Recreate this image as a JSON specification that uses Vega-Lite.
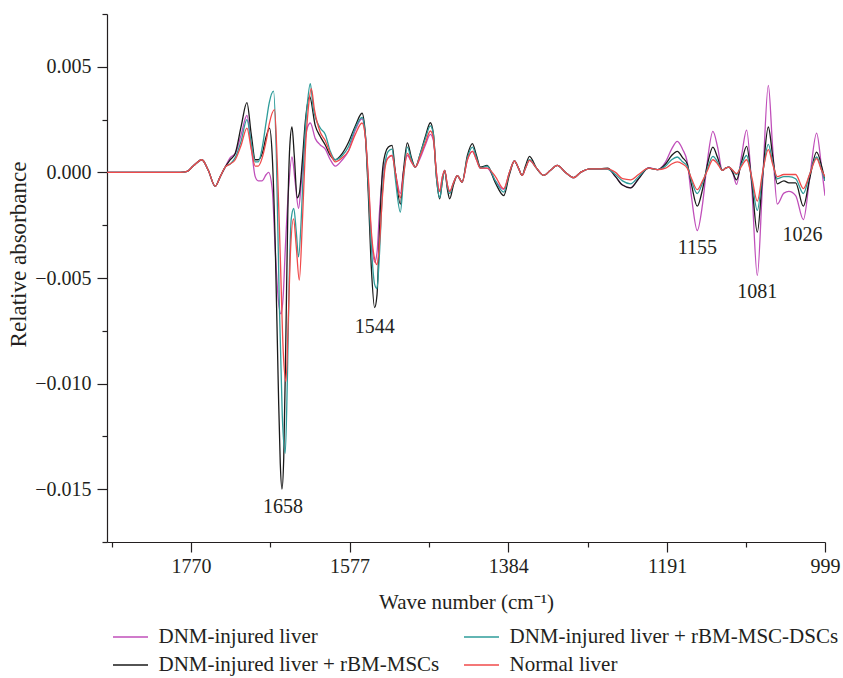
{
"$schema": "https://vega.github.io/schema/vega-lite/v6.json",
"width": 718, "height": 528,
"autosize": {"type": "none"},
"padding": {"left": 107, "top": 14, "right": 18, "bottom": 136},
"background": "white",
"config": {"view": {"stroke": null}, "font": "Liberation Serif"},
"layer": [
{"data": {"values": [
{"s":"m","w":1871.9,"a":0},{"s":"m","w":1783.0,"a":0},{"s":"m","w":1774.5,"a":0.00005},{"s":"m","w":1767.2,"a":0.0003},{"s":"m","w":1756.6,"a":0.0006},{"s":"m","w":1748.9,"a":0.0001},{"s":"m","w":1740.4,"a":-0.00066},{"s":"m","w":1734.3,"a":-0.0002},{"s":"m","w":1728.3,"a":0.00025},
{"s":"m","w":1722.2,"a":0.0007},{"s":"m","w":1716.1,"a":0.0009},{"s":"m","w":1708.8,"a":0.0018},{"s":"m","w":1701.9,"a":0.0027},{"s":"m","w":1696.6,"a":0.0012},{"s":"m","w":1691.8,"a":-0.0002},{"s":"m","w":1688.1,"a":-0.0004},{"s":"m","w":1683.6,"a":-0.0004},{"s":"m","w":1678.4,"a":-0.0001},{"s":"m","w":1675.6,"a":0.0},{"s":"m","w":1671.1,"a":-0.0008},{"s":"m","w":1667.4,"a":-0.0037},{"s":"m","w":1663.8,"a":-0.006},{"s":"m","w":1660.5,"a":-0.0067},{"s":"m","w":1657.7,"a":-0.0058},{"s":"m","w":1655.3,"a":-0.0037},{"s":"m","w":1651.6,"a":-0.001},{"s":"m","w":1647.1,"a":0.00073},{"s":"m","w":1643.1,"a":-0.0005},{"s":"m","w":1639.1,"a":-0.0017},{"s":"m","w":1635.8,"a":-0.0005},{"s":"m","w":1632.1,"a":0.0012},{"s":"m","w":1628.5,"a":0.0021},{"s":"m","w":1624.8,"a":0.00234},{"s":"m","w":1618.7,"a":0.0016},
{"s":"m","w":1612.7,"a":0.0013},{"s":"m","w":1606.6,"a":0.0011},{"s":"m","w":1600.5,"a":0.0006},{"s":"m","w":1594.4,"a":0.0003},{"s":"m","w":1585.9,"a":0.0006},{"s":"m","w":1578.6,"a":0.001},{"s":"m","w":1570.1,"a":0.002},{"s":"m","w":1561.9,"a":0.00254},{"s":"m","w":1557.9,"a":0.0017},{"s":"m","w":1554.3,"a":-0.0004},{"s":"m","w":1550.6,"a":-0.003},{"s":"m","w":1546.6,"a":-0.00425},{"s":"m","w":1543.7,"a":-0.0038},{"s":"m","w":1540.9,"a":-0.002},{"s":"m","w":1537.2,"a":-0.0002},{"s":"m","w":1533.6,"a":0.0005},{"s":"m","w":1529.9,"a":0.0007},{"s":"m","w":1525.4,"a":0.0008},{"s":"m","w":1521.4,"a":0.0},{"s":"m","w":1515.3,"a":-0.001},{"s":"m","w":1511.7,"a":0.0},{"s":"m","w":1506.8,"a":0.0008},{"s":"m","w":1501.9,"a":0.0005},{"s":"m","w":1497.1,"a":0.00025},{"s":"m","w":1491.0,"a":0.0007},{"s":"m","w":1484.9,"a":0.0013},{"s":"m","w":1478.8,"a":0.0018},{"s":"m","w":1475.1,"a":0.0015},{"s":"m","w":1471.5,"a":0.0},{"s":"m","w":1467.5,"a":-0.0009},{"s":"m","w":1464.2,"a":-0.0002},{"s":"m","w":1461.4,"a":0.0001},{"s":"m","w":1458.1,"a":-0.0006},{"s":"m","w":1455.3,"a":-0.0009},{"s":"m","w":1450.8,"a":-0.0005},{"s":"m","w":1446.0,"a":-0.00015},{"s":"m","w":1440.2,"a":-0.00046},{"s":"m","w":1433.8,"a":0.0006},{"s":"m","w":1427.7,"a":0.001},{"s":"m","w":1422.8,"a":0.0006},{"s":"m","w":1418.0,"a":0.0002},{"s":"m","w":1409.8,"a":0.0002},{"s":"m","w":1399.7,"a":-0.0004},{"s":"m","w":1389.6,"a":-0.0008},{"s":"m","w":1382.7,"a":0.0},{"s":"m","w":1376.6,"a":0.00054},{"s":"m","w":1371.7,"a":0.0002},{"s":"m","w":1367.2,"a":-0.00014},{"s":"m","w":1363.2,"a":0.0002},{"s":"m","w":1358.3,"a":0.00057},{"s":"m","w":1349.8,"a":0.0002},{"s":"m","w":1340.9,"a":-0.00014},{"s":"m","w":1332.8,"a":0.0001},{"s":"m","w":1324.6,"a":0.00033},{"s":"m","w":1314.5,"a":0.0},{"s":"m","w":1304.4,"a":-0.00025},{"s":"m","w":1296.2,"a":0.0},{"s":"m","w":1284.1,"a":0.00017},{"s":"m","w":1271.9,"a":0.00017},{"s":"m","w":1263.4,"a":0.00017},{"s":"m","w":1253.7,"a":-0.0002},{"s":"m","w":1245.2,"a":-0.0006},{"s":"m","w":1235.4,"a":-0.00073},{"s":"m","w":1225.7,"a":-0.0003},{"s":"m","w":1213.5,"a":0.00022},{"s":"m","w":1202.6,"a":0.00013},{"s":"m","w":1192.8,"a":0.0005},{"s":"m","w":1185.5,"a":0.0011},{"s":"m","w":1178.6,"a":0.00147},{"s":"m","w":1172.2,"a":0.0011},{"s":"m","w":1166.5,"a":0.0005},{"s":"m","w":1161.2,"a":-0.0012},{"s":"m","w":1154.3,"a":-0.00275},{"s":"m","w":1147.9,"a":-0.0015},{"s":"m","w":1141.8,"a":0.0006},{"s":"m","w":1135.3,"a":0.00194},{"s":"m","w":1129.6,"a":0.0012},{"s":"m","w":1123.9,"a":0.0001},{"s":"m","w":1119.9,"a":0.0002},{"s":"m","w":1115.8,"a":0.00025},{"s":"m","w":1111.3,"a":0.0},{"s":"m","w":1106.5,"a":-0.00057},{"s":"m","w":1100.4,"a":0.0008},{"s":"m","w":1094.3,"a":0.002},{"s":"m","w":1088.2,"a":-0.0006},{"s":"m","w":1081.3,"a":-0.00488},{"s":"m","w":1074.9,"a":-0.0005},{"s":"m","w":1067.9,"a":0.00412},{"s":"m","w":1062.7,"a":0.0012},{"s":"m","w":1057.0,"a":-0.0015},{"s":"m","w":1049.0,"a":-0.00098},{"s":"m","w":1042.9,"a":-0.0009},{"s":"m","w":1034.7,"a":-0.0011},{"s":"m","w":1025.3,"a":-0.00224},{"s":"m","w":1017.7,"a":-0.0003},{"s":"m","w":1009.2,"a":0.00186},{"s":"m","w":1003.1,"a":0.0002},{"s":"m","w":999,"a":-0.0011},

{"s":"k","w":1871.9,"a":0},{"s":"k","w":1783.0,"a":0},{"s":"k","w":1774.5,"a":0.00005},{"s":"k","w":1767.2,"a":0.0003},{"s":"k","w":1756.6,"a":0.0006},{"s":"k","w":1748.9,"a":0.0001},{"s":"k","w":1740.4,"a":-0.00066},{"s":"k","w":1734.3,"a":-0.0002},{"s":"k","w":1728.3,"a":0.00025},
{"s":"k","w":1722.2,"a":0.0006},{"s":"k","w":1716.1,"a":0.0009},{"s":"k","w":1708.8,"a":0.0022},{"s":"k","w":1701.9,"a":0.0033},{"s":"k","w":1696.6,"a":0.0018},{"s":"k","w":1691.8,"a":0.0006},{"s":"k","w":1688.1,"a":0.0006},{"s":"k","w":1683.2,"a":0.0009},{"s":"k","w":1678.4,"a":0.0017},{"s":"k","w":1674.4,"a":0.0021},{"s":"k","w":1671.1,"a":0.0008},{"s":"k","w":1667.4,"a":-0.0035},{"s":"k","w":1663.8,"a":-0.01},{"s":"k","w":1661.3,"a":-0.0138},{"s":"k","w":1659.3,"a":-0.015},{"s":"k","w":1657.1,"a":-0.0135},{"s":"k","w":1654.6,"a":-0.008},{"s":"k","w":1652.2,"a":-0.002},{"s":"k","w":1649.8,"a":0.0012},{"s":"k","w":1647.1,"a":0.00215},{"s":"k","w":1644.3,"a":0.0008},{"s":"k","w":1640.7,"a":-0.0012},{"s":"k","w":1638.2,"a":-0.001},{"s":"k","w":1634.6,"a":0.0005},{"s":"k","w":1630.9,"a":0.0024},{"s":"k","w":1625.7,"a":0.0036},{"s":"k","w":1618.7,"a":0.0022},
{"s":"k","w":1612.7,"a":0.0017},{"s":"k","w":1606.6,"a":0.0013},{"s":"k","w":1600.5,"a":0.0008},{"s":"k","w":1594.4,"a":0.0006},{"s":"k","w":1585.9,"a":0.0009},{"s":"k","w":1578.6,"a":0.0014},{"s":"k","w":1570.1,"a":0.0022},{"s":"k","w":1561.9,"a":0.0028},{"s":"k","w":1557.9,"a":0.0018},{"s":"k","w":1554.3,"a":-0.001},{"s":"k","w":1550.6,"a":-0.0045},{"s":"k","w":1546.6,"a":-0.0064},{"s":"k","w":1543.7,"a":-0.0058},{"s":"k","w":1540.9,"a":-0.003},{"s":"k","w":1537.2,"a":0.0},{"s":"k","w":1533.6,"a":0.0009},{"s":"k","w":1529.9,"a":0.0012},{"s":"k","w":1525.4,"a":0.00128},{"s":"k","w":1521.4,"a":0.0},{"s":"k","w":1515.3,"a":-0.0015},{"s":"k","w":1511.7,"a":0.0},{"s":"k","w":1506.8,"a":0.0014},{"s":"k","w":1501.9,"a":0.0007},{"s":"k","w":1497.1,"a":0.00025},{"s":"k","w":1491.0,"a":0.0009},{"s":"k","w":1484.9,"a":0.0017},{"s":"k","w":1478.8,"a":0.00235},{"s":"k","w":1475.1,"a":0.0018},{"s":"k","w":1471.5,"a":-0.0002},{"s":"k","w":1467.5,"a":-0.00125},{"s":"k","w":1464.2,"a":-0.0004},{"s":"k","w":1461.4,"a":0.0001},{"s":"k","w":1458.1,"a":-0.0008},{"s":"k","w":1455.3,"a":-0.00125},{"s":"k","w":1450.8,"a":-0.0006},{"s":"k","w":1446.0,"a":-0.00015},{"s":"k","w":1440.2,"a":-0.00046},{"s":"k","w":1433.8,"a":0.0008},{"s":"k","w":1427.7,"a":0.00136},{"s":"k","w":1422.8,"a":0.0008},{"s":"k","w":1418.0,"a":0.00025},{"s":"k","w":1409.8,"a":0.00033},{"s":"k","w":1399.7,"a":-0.0005},{"s":"k","w":1389.6,"a":-0.0011},{"s":"k","w":1382.7,"a":-0.0001},{"s":"k","w":1376.6,"a":0.00054},{"s":"k","w":1371.7,"a":0.0002},{"s":"k","w":1367.2,"a":-0.00014},{"s":"k","w":1363.2,"a":0.0003},{"s":"k","w":1358.3,"a":0.00076},{"s":"k","w":1349.8,"a":0.0002},{"s":"k","w":1340.9,"a":-0.00014},{"s":"k","w":1332.8,"a":0.0001},{"s":"k","w":1324.6,"a":0.00033},{"s":"k","w":1314.5,"a":0.0},{"s":"k","w":1304.4,"a":-0.00025},{"s":"k","w":1296.2,"a":0.0},{"s":"k","w":1284.1,"a":0.00017},{"s":"k","w":1271.9,"a":0.00017},{"s":"k","w":1263.4,"a":0.0002},{"s":"k","w":1253.7,"a":-0.0002},{"s":"k","w":1245.2,"a":-0.0006},{"s":"k","w":1235.4,"a":-0.00073},{"s":"k","w":1225.7,"a":-0.0003},{"s":"k","w":1213.5,"a":0.0002},{"s":"k","w":1202.6,"a":0.00013},{"s":"k","w":1192.8,"a":0.0004},{"s":"k","w":1185.5,"a":0.0008},{"s":"k","w":1178.6,"a":0.001},{"s":"k","w":1172.2,"a":0.0007},{"s":"k","w":1166.5,"a":0.0004},{"s":"k","w":1161.2,"a":-0.0006},{"s":"k","w":1154.3,"a":-0.0016},{"s":"k","w":1147.9,"a":-0.0008},{"s":"k","w":1141.8,"a":0.0004},{"s":"k","w":1135.3,"a":0.0012},{"s":"k","w":1129.6,"a":0.0007},{"s":"k","w":1123.9,"a":0.0001},{"s":"k","w":1119.9,"a":0.0002},{"s":"k","w":1115.8,"a":0.00025},{"s":"k","w":1111.3,"a":0.0},{"s":"k","w":1106.5,"a":-0.00035},{"s":"k","w":1100.4,"a":0.0005},{"s":"k","w":1094.3,"a":0.00123},{"s":"k","w":1088.2,"a":-0.0004},{"s":"k","w":1081.3,"a":-0.00283},{"s":"k","w":1074.9,"a":-0.0002},{"s":"k","w":1067.9,"a":0.00215},{"s":"k","w":1062.7,"a":0.0008},{"s":"k","w":1057.0,"a":-0.00054},{"s":"k","w":1049.0,"a":-0.0004},{"s":"k","w":1042.9,"a":-0.0005},{"s":"k","w":1034.7,"a":-0.0005},{"s":"k","w":1025.3,"a":-0.0016},{"s":"k","w":1017.7,"a":-0.0003},{"s":"k","w":1009.2,"a":0.00096},{"s":"k","w":1003.1,"a":0.0003},{"s":"k","w":999,"a":-0.0004},

{"s":"t","w":1871.9,"a":0},{"s":"t","w":1783.0,"a":0},{"s":"t","w":1774.5,"a":0.00005},{"s":"t","w":1767.2,"a":0.0003},{"s":"t","w":1756.6,"a":0.0006},{"s":"t","w":1748.9,"a":0.0001},{"s":"t","w":1740.4,"a":-0.00066},{"s":"t","w":1734.3,"a":-0.0002},{"s":"t","w":1728.3,"a":0.00025},
{"s":"t","w":1722.2,"a":0.0004},{"s":"t","w":1716.1,"a":0.0007},{"s":"t","w":1708.8,"a":0.0015},{"s":"t","w":1701.9,"a":0.0025},{"s":"t","w":1696.6,"a":0.0014},{"s":"t","w":1691.8,"a":0.0005},{"s":"t","w":1688.1,"a":0.0005},{"s":"t","w":1683.2,"a":0.0012},{"s":"t","w":1678.4,"a":0.0024},{"s":"t","w":1674.7,"a":0.0033},{"s":"t","w":1669.5,"a":0.00385},{"s":"t","w":1666.2,"a":0.001},{"s":"t","w":1662.6,"a":-0.006},{"s":"t","w":1658.9,"a":-0.0115},{"s":"t","w":1655.3,"a":-0.0133},{"s":"t","w":1652.8,"a":-0.01},{"s":"t","w":1650.4,"a":-0.005},{"s":"t","w":1648.0,"a":-0.0022},{"s":"t","w":1644.9,"a":-0.0017},{"s":"t","w":1641.9,"a":-0.0028},{"s":"t","w":1639.1,"a":-0.004},{"s":"t","w":1635.8,"a":-0.0022},{"s":"t","w":1632.1,"a":0.0012},{"s":"t","w":1628.5,"a":0.0032},{"s":"t","w":1624.8,"a":0.0042},{"s":"t","w":1621.1,"a":0.003},
{"s":"t","w":1612.7,"a":0.0021},{"s":"t","w":1606.6,"a":0.0018},{"s":"t","w":1600.5,"a":0.001},{"s":"t","w":1594.4,"a":0.0006},{"s":"t","w":1585.9,"a":0.0008},{"s":"t","w":1578.6,"a":0.0012},{"s":"t","w":1570.1,"a":0.0021},{"s":"t","w":1561.9,"a":0.0026},{"s":"t","w":1557.9,"a":0.0018},{"s":"t","w":1554.3,"a":-0.0006},{"s":"t","w":1550.6,"a":-0.0035},{"s":"t","w":1546.6,"a":-0.0053},{"s":"t","w":1543.7,"a":-0.0055},{"s":"t","w":1540.9,"a":-0.004},{"s":"t","w":1537.2,"a":-0.001},{"s":"t","w":1533.6,"a":0.0005},{"s":"t","w":1529.9,"a":0.001},{"s":"t","w":1525.4,"a":0.0011},{"s":"t","w":1521.4,"a":-0.0003},{"s":"t","w":1515.3,"a":-0.00188},{"s":"t","w":1511.7,"a":-0.0004},{"s":"t","w":1506.8,"a":0.0012},{"s":"t","w":1501.9,"a":0.0006},{"s":"t","w":1497.1,"a":0.00025},{"s":"t","w":1491.0,"a":0.0009},{"s":"t","w":1484.9,"a":0.0016},{"s":"t","w":1478.8,"a":0.0022},{"s":"t","w":1475.1,"a":0.0018},{"s":"t","w":1471.5,"a":-0.0002},{"s":"t","w":1467.5,"a":-0.0012},{"s":"t","w":1464.2,"a":-0.0004},{"s":"t","w":1461.4,"a":0.0001},{"s":"t","w":1458.1,"a":-0.0007},{"s":"t","w":1455.3,"a":-0.001},{"s":"t","w":1450.8,"a":-0.0005},{"s":"t","w":1446.0,"a":-0.00015},{"s":"t","w":1440.2,"a":-0.00046},{"s":"t","w":1433.8,"a":0.0007},{"s":"t","w":1427.7,"a":0.0012},{"s":"t","w":1422.8,"a":0.0007},{"s":"t","w":1418.0,"a":0.0002},{"s":"t","w":1409.8,"a":0.0003},{"s":"t","w":1399.7,"a":-0.0004},{"s":"t","w":1389.6,"a":-0.00093},{"s":"t","w":1382.7,"a":0.0},{"s":"t","w":1376.6,"a":0.00054},{"s":"t","w":1371.7,"a":0.0002},{"s":"t","w":1367.2,"a":-0.00014},{"s":"t","w":1363.2,"a":0.0002},{"s":"t","w":1358.3,"a":0.0006},{"s":"t","w":1349.8,"a":0.0002},{"s":"t","w":1340.9,"a":-0.00014},{"s":"t","w":1332.8,"a":0.0001},{"s":"t","w":1324.6,"a":0.00033},{"s":"t","w":1314.5,"a":0.0},{"s":"t","w":1304.4,"a":-0.00025},{"s":"t","w":1296.2,"a":0.0},{"s":"t","w":1284.1,"a":0.00017},{"s":"t","w":1271.9,"a":0.00017},{"s":"t","w":1263.4,"a":0.00015},{"s":"t","w":1253.7,"a":-0.0001},{"s":"t","w":1245.2,"a":-0.0004},{"s":"t","w":1235.4,"a":-0.00054},{"s":"t","w":1225.7,"a":-0.0002},{"s":"t","w":1213.5,"a":0.0002},{"s":"t","w":1202.6,"a":0.00013},{"s":"t","w":1192.8,"a":0.0003},{"s":"t","w":1185.5,"a":0.0006},{"s":"t","w":1178.6,"a":0.00073},{"s":"t","w":1172.2,"a":0.0005},{"s":"t","w":1166.5,"a":0.0003},{"s":"t","w":1161.2,"a":-0.0004},{"s":"t","w":1154.3,"a":-0.001},{"s":"t","w":1147.9,"a":-0.0005},{"s":"t","w":1141.8,"a":0.0002},{"s":"t","w":1135.3,"a":0.00076},{"s":"t","w":1129.6,"a":0.0005},{"s":"t","w":1123.9,"a":0.0001},{"s":"t","w":1119.9,"a":0.0002},{"s":"t","w":1115.8,"a":0.00025},{"s":"t","w":1111.3,"a":0.0001},{"s":"t","w":1106.5,"a":-0.0001},{"s":"t","w":1100.4,"a":0.0004},{"s":"t","w":1094.3,"a":0.0008},{"s":"t","w":1088.2,"a":-0.0003},{"s":"t","w":1081.3,"a":-0.0018},{"s":"t","w":1074.9,"a":-0.0001},{"s":"t","w":1067.9,"a":0.00133},{"s":"t","w":1062.7,"a":0.0005},{"s":"t","w":1057.0,"a":-0.0003},{"s":"t","w":1049.0,"a":-0.0002},{"s":"t","w":1042.9,"a":-0.0002},{"s":"t","w":1034.7,"a":-0.0003},{"s":"t","w":1025.3,"a":-0.001},{"s":"t","w":1017.7,"a":-0.0001},{"s":"t","w":1009.2,"a":0.00073},{"s":"t","w":1003.1,"a":0.0001},{"s":"t","w":999,"a":-0.0004},

{"s":"r","w":1871.9,"a":0},{"s":"r","w":1783.0,"a":0},{"s":"r","w":1774.5,"a":0.00005},{"s":"r","w":1767.2,"a":0.0003},{"s":"r","w":1756.6,"a":0.0006},{"s":"r","w":1748.9,"a":0.0001},{"s":"r","w":1740.4,"a":-0.00066},{"s":"r","w":1734.3,"a":-0.0002},{"s":"r","w":1728.3,"a":0.00025},
{"s":"r","w":1722.2,"a":0.0004},{"s":"r","w":1716.1,"a":0.0006},{"s":"r","w":1708.8,"a":0.0013},{"s":"r","w":1701.9,"a":0.0021},{"s":"r","w":1696.6,"a":0.0011},{"s":"r","w":1691.8,"a":0.0003},{"s":"r","w":1688.1,"a":0.0003},{"s":"r","w":1683.2,"a":0.0007},{"s":"r","w":1678.4,"a":0.0015},{"s":"r","w":1674.7,"a":0.0023},{"s":"r","w":1668.3,"a":0.00297},{"s":"r","w":1665.0,"a":0.0005},{"s":"r","w":1661.3,"a":-0.004},{"s":"r","w":1657.7,"a":-0.0085},{"s":"r","w":1654.4,"a":-0.0099},{"s":"r","w":1651.6,"a":-0.007},{"s":"r","w":1649.2,"a":-0.004},{"s":"r","w":1645.2,"a":-0.0022},{"s":"r","w":1641.9,"a":-0.0035},{"s":"r","w":1638.2,"a":-0.0051},{"s":"r","w":1634.6,"a":-0.0025},{"s":"r","w":1630.9,"a":0.001},{"s":"r","w":1627.3,"a":0.003},{"s":"r","w":1623.6,"a":0.00396},{"s":"r","w":1619.9,"a":0.003},
{"s":"r","w":1612.7,"a":0.0019},{"s":"r","w":1606.6,"a":0.0015},{"s":"r","w":1600.5,"a":0.0009},{"s":"r","w":1594.4,"a":0.0005},{"s":"r","w":1585.9,"a":0.0007},{"s":"r","w":1578.6,"a":0.001},{"s":"r","w":1570.1,"a":0.0018},{"s":"r","w":1561.9,"a":0.00234},{"s":"r","w":1557.9,"a":0.0017},{"s":"r","w":1554.3,"a":-0.0002},{"s":"r","w":1550.6,"a":-0.0028},{"s":"r","w":1546.6,"a":-0.0041},{"s":"r","w":1543.7,"a":-0.00436},{"s":"r","w":1540.9,"a":-0.0035},{"s":"r","w":1537.2,"a":-0.0012},{"s":"r","w":1533.6,"a":0.0003},{"s":"r","w":1529.9,"a":0.0007},{"s":"r","w":1525.4,"a":0.0008},{"s":"r","w":1521.4,"a":0.0},{"s":"r","w":1515.3,"a":-0.0012},{"s":"r","w":1511.7,"a":-0.0002},{"s":"r","w":1506.8,"a":0.0009},{"s":"r","w":1501.9,"a":0.0005},{"s":"r","w":1497.1,"a":0.00025},{"s":"r","w":1491.0,"a":0.0008},{"s":"r","w":1484.9,"a":0.0014},{"s":"r","w":1478.8,"a":0.00196},{"s":"r","w":1475.1,"a":0.0016},{"s":"r","w":1471.5,"a":0.0},{"s":"r","w":1467.5,"a":-0.0009},{"s":"r","w":1464.2,"a":-0.0002},{"s":"r","w":1461.4,"a":0.0001},{"s":"r","w":1458.1,"a":-0.0006},{"s":"r","w":1455.3,"a":-0.0009},{"s":"r","w":1450.8,"a":-0.0005},{"s":"r","w":1446.0,"a":-0.00015},{"s":"r","w":1440.2,"a":-0.00046},{"s":"r","w":1433.8,"a":0.0006},{"s":"r","w":1427.7,"a":0.001},{"s":"r","w":1422.8,"a":0.0006},{"s":"r","w":1418.0,"a":0.0002},{"s":"r","w":1409.8,"a":0.0002},{"s":"r","w":1399.7,"a":-0.0002},{"s":"r","w":1389.6,"a":-0.00077},{"s":"r","w":1382.7,"a":0.0},{"s":"r","w":1376.6,"a":0.00054},{"s":"r","w":1371.7,"a":0.0002},{"s":"r","w":1367.2,"a":-0.00014},{"s":"r","w":1363.2,"a":0.0002},{"s":"r","w":1358.3,"a":0.00057},{"s":"r","w":1349.8,"a":0.0002},{"s":"r","w":1340.9,"a":-0.00014},{"s":"r","w":1332.8,"a":0.0001},{"s":"r","w":1324.6,"a":0.00033},{"s":"r","w":1314.5,"a":0.0},{"s":"r","w":1304.4,"a":-0.00025},{"s":"r","w":1296.2,"a":0.0},{"s":"r","w":1284.1,"a":0.00017},{"s":"r","w":1271.9,"a":0.00017},{"s":"r","w":1263.4,"a":0.00017},{"s":"r","w":1253.7,"a":0.0},{"s":"r","w":1245.2,"a":-0.0003},{"s":"r","w":1235.4,"a":-0.00035},{"s":"r","w":1225.7,"a":-0.0001},{"s":"r","w":1213.5,"a":0.0002},{"s":"r","w":1202.6,"a":0.00013},{"s":"r","w":1192.8,"a":0.0002},{"s":"r","w":1185.5,"a":0.0004},{"s":"r","w":1178.6,"a":0.0005},{"s":"r","w":1172.2,"a":0.0004},{"s":"r","w":1166.5,"a":0.0002},{"s":"r","w":1161.2,"a":-0.0003},{"s":"r","w":1154.3,"a":-0.00082},{"s":"r","w":1147.9,"a":-0.0004},{"s":"r","w":1141.8,"a":0.0001},{"s":"r","w":1135.3,"a":0.0006},{"s":"r","w":1129.6,"a":0.0004},{"s":"r","w":1123.9,"a":0.0001},{"s":"r","w":1119.9,"a":0.0002},{"s":"r","w":1115.8,"a":0.00025},{"s":"r","w":1111.3,"a":0.0001},{"s":"r","w":1106.5,"a":-0.00006},{"s":"r","w":1100.4,"a":0.0003},{"s":"r","w":1094.3,"a":0.0006},{"s":"r","w":1088.2,"a":-0.0002},{"s":"r","w":1081.3,"a":-0.00136},{"s":"r","w":1074.9,"a":0.0},{"s":"r","w":1067.9,"a":0.00108},{"s":"r","w":1062.7,"a":0.0004},{"s":"r","w":1057.0,"a":-0.0002},{"s":"r","w":1049.0,"a":-0.0001},{"s":"r","w":1042.9,"a":-0.0001},{"s":"r","w":1034.7,"a":-0.0001},{"s":"r","w":1025.3,"a":-0.00077},{"s":"r","w":1017.7,"a":-0.0001},{"s":"r","w":1009.2,"a":0.00065},{"s":"r","w":1003.1,"a":0.0001},{"s":"r","w":999,"a":-0.0002}
]},
"mark": {"type": "line", "interpolate": "monotone", "strokeWidth": 1.3, "clip": true},
"encoding": {
 "x": {"field": "w", "type": "quantitative", "sort": null,
  "scale": {"domain": [999, 1872], "reverse": true, "nice": false, "zero": false},
  "axis": {"values": [1866.5, 1770, 1673.5, 1577, 1480.5, 1384, 1287.5, 1191, 1095, 999],
   "format": "d",
   "labelExpr": "indexof([1770,1577,1384,1191,999], datum.value) >= 0 ? datum.label : ''",
   "tickSize": {"condition": {"test": "indexof([1770,1577,1384,1191,999], datum.value) >= 0", "value": 10}, "value": 5},
   "title": "Wave number (cm⁻¹)", "grid": false, "labelOverlap": false, "labelFlush": false,
   "domainColor": "#231f20", "tickColor": "#231f20", "domainWidth": 1.2, "tickWidth": 1.2,
   "labelFont": "Liberation Serif", "labelFontSize": 20, "labelColor": "#231f20", "labelPadding": 4,
   "titleFont": "Liberation Serif", "titleFontSize": 21, "titleFontWeight": "normal", "titleColor": "#231f20", "titlePadding": 15}},
 "y": {"field": "a", "type": "quantitative",
  "scale": {"domain": [-0.0175, 0.0075], "nice": false, "zero": false},
  "axis": {"values": [0.0075, 0.005, 0.0025, 0, -0.0025, -0.005, -0.0075, -0.01, -0.0125, -0.015, -0.0175],
   "format": ".3f",
   "labelExpr": "abs(datum.value*200 - round(datum.value*200)) < 0.01 ? datum.label : ''",
   "tickSize": {"condition": {"test": "abs(datum.value*200 - round(datum.value*200)) < 0.01", "value": 10}, "value": 5},
   "title": "Relative absorbance", "grid": false, "labelOverlap": false, "labelFlush": false,
   "domainColor": "#231f20", "tickColor": "#231f20", "domainWidth": 1.2, "tickWidth": 1.2,
   "labelFont": "Liberation Serif", "labelFontSize": 20, "labelColor": "#231f20", "labelPadding": 6,
   "titleFont": "Liberation Serif", "titleFontSize": 23, "titleFontWeight": "normal", "titleColor": "#231f20", "titlePadding": 4, "titleY": 240}},
 "color": {"field": "s", "type": "nominal",
  "scale": {"domain": ["m", "t", "k", "r"], "range": ["#c04fba", "#2e9c9a", "#1a1a1a", "#f04a4a"]},
  "legend": {"orient": "none", "legendX": 8.5, "legendY": 608, "direction": "horizontal", "columns": 2, "title": null,
   "symbolType": "M-1.25,0H1.25", "symbolSize": 784, "symbolStrokeWidth": 1.5,
   "labelFont": "Liberation Serif", "labelFontSize": 21, "labelColor": "#231f20", "labelOffset": 13,
   "columnPadding": 21, "rowPadding": 3, "labelLimit": 400,
   "labelExpr": "datum.label == 'm' ? 'DNM-injured liver' : datum.label == 't' ? 'DNM-injured liver + rBM-MSC-DSCs' : datum.label == 'k' ? 'DNM-injured liver + rBM-MSCs' : 'Normal liver'"}}
}},
{"data": {"values": [
 {"label": "1658", "w": 1658, "a": -0.01585},
 {"label": "1544", "w": 1546.5, "a": -0.0073},
 {"label": "1155", "w": 1154.3, "a": -0.00357},
 {"label": "1081", "w": 1081.3, "a": -0.00567},
 {"label": "1026", "w": 1026.3, "a": -0.00298}
]},
"mark": {"type": "text", "font": "Liberation Serif", "fontSize": 20, "color": "#231f20", "align": "center", "baseline": "middle"},
"encoding": {
 "x": {"field": "w", "type": "quantitative"},
 "y": {"field": "a", "type": "quantitative"},
 "text": {"field": "label"}
}}
]
}
